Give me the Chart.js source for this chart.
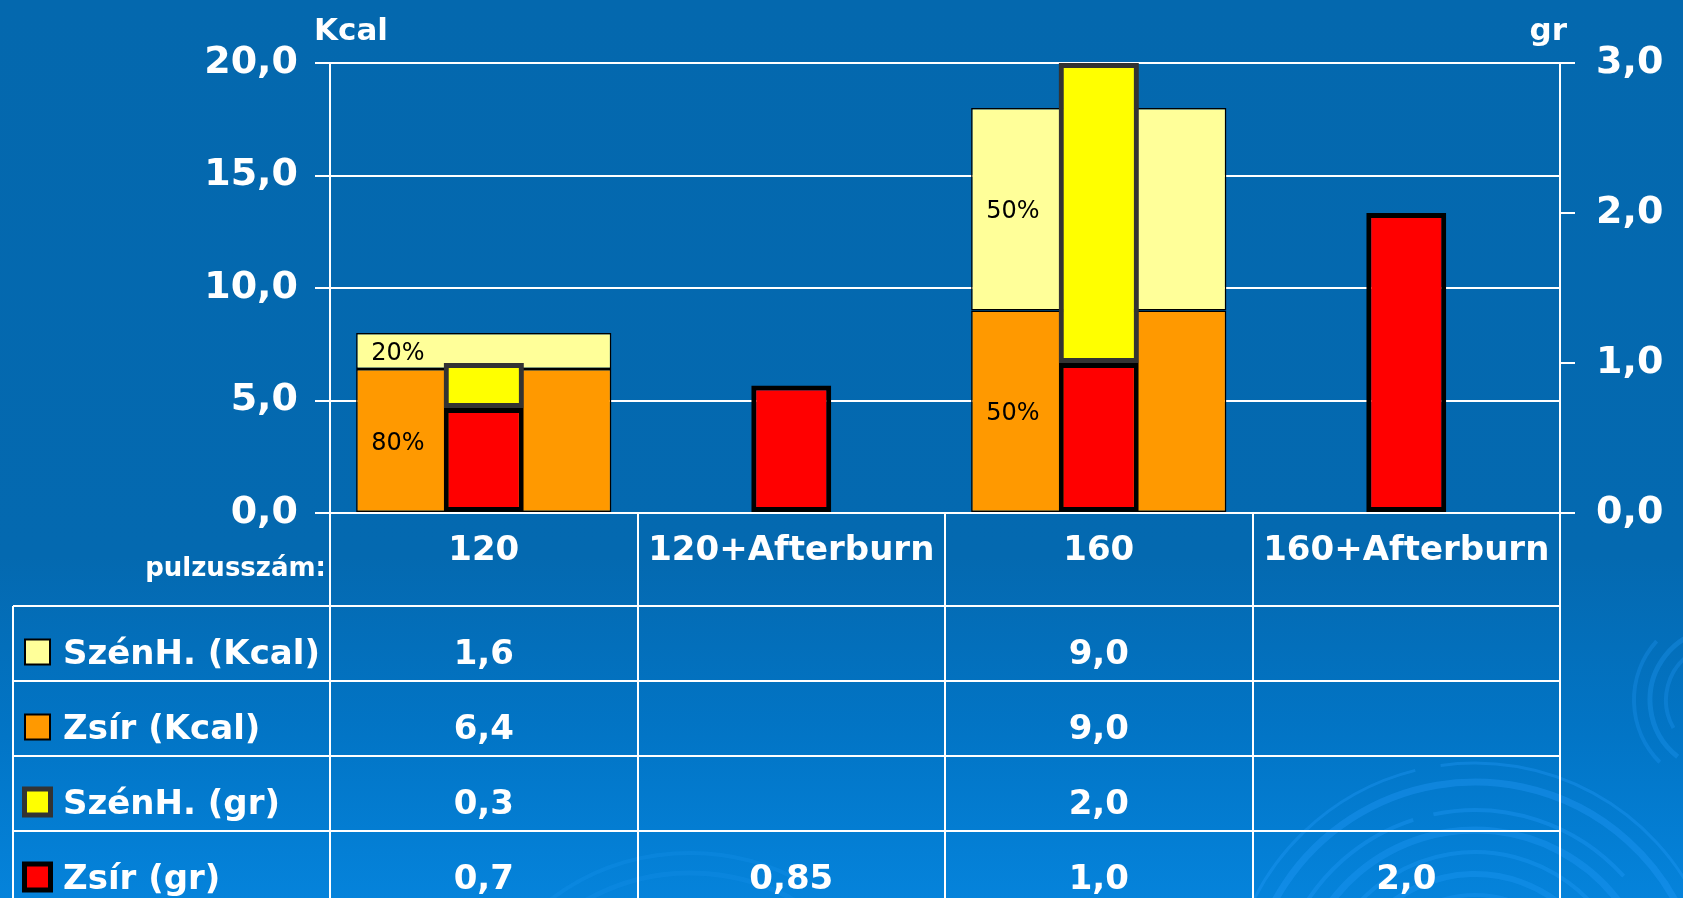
<!DOCTYPE html>
<html lang="hu">
<head>
<meta charset="utf-8">
<title>Kalóriafelhasználás pulzusszám szerint</title>
<script src="https://cdn.jsdelivr.net/npm/chart.js@4.4.1/dist/chart.umd.min.js"></script>
<style>
  html, body { margin: 0; padding: 0; background: #0468ae; overflow: hidden; }
  #wrap { width: 1683px; height: 898px; position: relative; }
  canvas { display: block; }
</style>
</head>
<body>
<div id="wrap"><canvas id="chart" width="1683" height="898"></canvas></div>
<script>
// Pulse categories and the measured values
const categories = ['120', '120+Afterburn', '160', '160+Afterburn'];
const szenhKcal = [1.6, null, 9.0, null];   // carbohydrate, Kcal
const zsirKcal  = [6.4, null, 9.0, null];   // fat, Kcal
const szenhGr   = [0.3, null, 2.0, null];   // carbohydrate, gram
const zsirGr    = [0.7, 0.85, 1.0, 2.0];    // fat, gram

// Axis ranges and tick steps
const kcalRange = [0, 20];
const kcalStep = 5;
const grRange = [0, 3];
const grStep = 1;

// Axis titles and data-table row labels
const kcalTitle = 'Kcal';
const grTitle = 'gr';
const headerLabel = 'pulzusszám:';
const rowLabels = ['SzénH. (Kcal)', 'Zsír (Kcal)', 'SzénH. (gr)', 'Zsír (gr)'];
const rowSeries = [szenhKcal, zsirKcal, szenhGr, zsirGr];

const FONT = '"DejaVu Sans", "Liberation Sans", sans-serif';

// Hungarian number format: decimal comma, at least one decimal
function huNum(v) {
  const oneDecimal = Math.abs(v * 10 - Math.round(v * 10)) < 1e-9;
  return v.toFixed(oneDecimal ? 1 : 2).replace('.', ',');
}

// Swatch styles for the table legend
const swatches = [
  { fill: '#FFFF99', stroke: '#000000', lw: 2, size: 27 },
  { fill: '#FF9900', stroke: '#000000', lw: 2, size: 27 },
  { fill: '#FFFF00', stroke: '#333333', lw: 5, size: 31 },
  { fill: '#FF0000', stroke: '#000000', lw: 5, size: 31 }
];

// Background: blue gradient with faint swirl ornaments
const backdrop = {
  id: 'backdrop',
  beforeDraw(chart) {
    const { ctx, width, height } = chart;
    ctx.save();
    const g = ctx.createLinearGradient(0, 0, 0, height);
    g.addColorStop(0, '#0468ae');
    g.addColorStop(0.62, '#0469b0');
    g.addColorStop(0.82, '#0275c6');
    g.addColorStop(1, '#0583db');
    ctx.fillStyle = g;
    ctx.fillRect(0, 0, width, height);

    const arcs = [
      // cx, cy, r, from°, to°, width, alpha
      [1475, 1010, 247, 196, 256, 3, 0.30],
      [1475, 1010, 247, 262, 335, 3, 0.30],
      [1475, 1010, 228, 192, 342, 7, 0.32],
      [1475, 1010, 200, 205, 252, 4, 0.30],
      [1475, 1010, 200, 258, 318, 4, 0.30],
      [1475, 1010, 180, 208, 330, 7, 0.30],
      [1475, 1010, 158, 216, 322, 4, 0.28],
      [1475, 1010, 136, 200, 345, 6, 0.28],
      [1475, 1010, 115, 210, 330, 4, 0.25],
      [1722, 700, 88, 135, 222, 4, 0.26],
      [1722, 700, 72, 128, 250, 5, 0.28],
      [1722, 700, 56, 150, 262, 4, 0.26],
      [690, 1085, 232, 232, 300, 4, 0.16],
      [690, 1085, 212, 240, 310, 5, 0.14]
    ];
    ctx.lineCap = 'butt';
    for (const [cx, cy, r, a0, a1, w, al] of arcs) {
      ctx.beginPath();
      ctx.strokeStyle = `rgba(40,160,255,${al})`;
      ctx.lineWidth = w;
      ctx.arc(cx, cy, r, a0 * Math.PI / 180, a1 * Math.PI / 180);
      ctx.stroke();
    }
    ctx.restore();
  }
};

// Keeps the carbohydrate (gr) segments above the fat (gr) segments where they meet
const topSegments = {
  id: 'topSegments',
  afterDatasetsDraw(chart) {
    const idx = 1;
    const meta = chart.getDatasetMeta(idx);
    const data = chart.data.datasets[idx].data;
    meta.data.forEach((el, i) => {
      if (data[i] !== null && data[i] !== undefined) el.draw(chart.ctx);
    });
  }
};

// Share labels inside the Kcal columns
const shareLabels = {
  id: 'shareLabels',
  afterDatasetsDraw(chart) {
    const ctx = chart.ctx;
    const fatMeta = chart.getDatasetMeta(2);
    const carbMeta = chart.getDatasetMeta(3);
    ctx.save();
    ctx.fillStyle = '#000';
    ctx.font = `24px ${FONT}`;
    ctx.textAlign = 'left';
    ctx.textBaseline = 'middle';
    categories.forEach((c, i) => {
      const a = szenhKcal[i], b = zsirKcal[i];
      if (a === null || b === null) return;
      const total = a + b;
      const carbEl = carbMeta.data[i];
      const fatEl = fatMeta.data[i];
      const left = fatEl.x - fatEl.width / 2 + 15;
      ctx.fillText(Math.round(a / total * 100) + '%', left, (carbEl.y + carbEl.base) / 2 + 3);
      ctx.fillText(Math.round(b / total * 100) + '%', left, (fatEl.y + fatEl.base) / 2 + 3);
    });
    ctx.restore();
  }
};

// Axis titles and the data table under the plot
const dataTable = {
  id: 'dataTable',
  afterDraw(chart) {
    const { ctx, chartArea: ca, height } = chart;
    const xs = chart.scales.x;
    const n = categories.length;
    const colW = (ca.right - ca.left) / n;
    const rowTop = 606, rowH = 75, tableLeft = 13;

    ctx.save();
    // axis titles
    ctx.fillStyle = '#fff';
    ctx.font = `bold 31px ${FONT}`;
    ctx.textBaseline = 'alphabetic';
    ctx.textAlign = 'left';
    ctx.fillText(kcalTitle, 314, 40);
    ctx.textAlign = 'right';
    ctx.fillText(grTitle, 1567, 40);

    // grid of the table
    ctx.strokeStyle = '#fff';
    ctx.lineWidth = 2;
    ctx.beginPath();
    for (let i = 0; i <= n; i++) {
      const x = Math.round(ca.left + i * colW);
      ctx.moveTo(x, ca.bottom);
      ctx.lineTo(x, height);
    }
    ctx.moveTo(tableLeft, rowTop);
    ctx.lineTo(tableLeft, height);
    for (let r = 0; r < rowSeries.length; r++) {
      const y = rowTop + r * rowH;
      ctx.moveTo(tableLeft, y);
      ctx.lineTo(ca.right, y);
    }
    ctx.stroke();

    // header row
    ctx.fillStyle = '#fff';
    ctx.textBaseline = 'alphabetic';
    ctx.textAlign = 'right';
    ctx.font = `bold 26px ${FONT}`;
    ctx.fillText(headerLabel, 326, 576);
    ctx.textAlign = 'center';
    ctx.textBaseline = 'middle';
    ctx.font = `bold 34px ${FONT}`;
    categories.forEach((c, i) => ctx.fillText(c, xs.getPixelForValue(i), 551));

    // series rows
    rowSeries.forEach((series, r) => {
      const cy = rowTop + r * rowH + 46;
      const s = swatches[r];
      const x0 = 37.5 - s.size / 2, y0 = cy - s.size / 2;
      ctx.fillStyle = s.stroke;
      ctx.fillRect(x0, y0, s.size, s.size);
      ctx.fillStyle = s.fill;
      ctx.fillRect(x0 + s.lw, y0 + s.lw, s.size - 2 * s.lw, s.size - 2 * s.lw);

      ctx.fillStyle = '#fff';
      ctx.font = `bold 34px ${FONT}`;
      ctx.textAlign = 'left';
      ctx.fillText(rowLabels[r], 63, cy + 3);
      ctx.textAlign = 'center';
      series.forEach((v, i) => {
        if (v === null) return;
        ctx.fillText(huNum(v), xs.getPixelForValue(i), cy + 3);
      });
    });
    ctx.restore();
  }
};

const tickFont = { family: FONT, size: 38, weight: 'bold' };

new Chart(document.getElementById('chart'), {
  type: 'bar',
  data: {
    labels: categories,
    datasets: [
      { label: 'Zsír (gr)', data: zsirGr, yAxisID: 'y1', stack: 'gr',
        backgroundColor: '#FF0000', borderColor: '#000000', borderWidth: 5,
        borderSkipped: false, grouped: false, barPercentage: 0.26, categoryPercentage: 1 },
      { label: 'SzénH. (gr)', data: szenhGr, yAxisID: 'y1', stack: 'gr',
        backgroundColor: '#FFFF00', borderColor: '#333333', borderWidth: 5,
        borderSkipped: false, grouped: false, barPercentage: 0.26, categoryPercentage: 1 },
      { label: 'Zsír (Kcal)', data: zsirKcal, yAxisID: 'y', stack: 'kcal',
        backgroundColor: '#FF9900', borderColor: '#000000', borderWidth: 1.5,
        borderSkipped: false, grouped: false, barPercentage: 0.83, categoryPercentage: 1 },
      { label: 'SzénH. (Kcal)', data: szenhKcal, yAxisID: 'y', stack: 'kcal',
        backgroundColor: '#FFFF99', borderColor: '#000000', borderWidth: 1.5,
        borderSkipped: false, grouped: false, barPercentage: 0.83, categoryPercentage: 1 }
    ]
  },
  options: {
    responsive: false,
    animation: false,
    devicePixelRatio: 1,
    layout: { padding: { top: 63, bottom: 385, left: 0, right: 0 } },
    plugins: { legend: { display: false }, tooltip: { enabled: false } },
    scales: {
      x: { display: false, stacked: true },
      y: {
        position: 'left', stacked: true, min: kcalRange[0], max: kcalRange[1],
        ticks: { stepSize: kcalStep, color: '#fff', font: tickFont, padding: 17, callback: v => huNum(v) },
        grid: { color: '#fff', lineWidth: 2, tickLength: 15, drawOnChartArea: true },
        border: { display: true, color: '#fff', width: 2 },
        afterFit: s => { s.width = 330; }
      },
      y1: {
        position: 'right', stacked: true, min: grRange[0], max: grRange[1],
        ticks: { stepSize: grStep, color: '#fff', font: tickFont, padding: 21, callback: v => huNum(v) },
        grid: { color: '#fff', lineWidth: 2, tickLength: 15, drawOnChartArea: false },
        border: { display: true, color: '#fff', width: 2 },
        afterFit: s => { s.width = 123; }
      }
    }
  },
  plugins: [backdrop, topSegments, shareLabels, dataTable]
});
</script>
</body>
</html>
